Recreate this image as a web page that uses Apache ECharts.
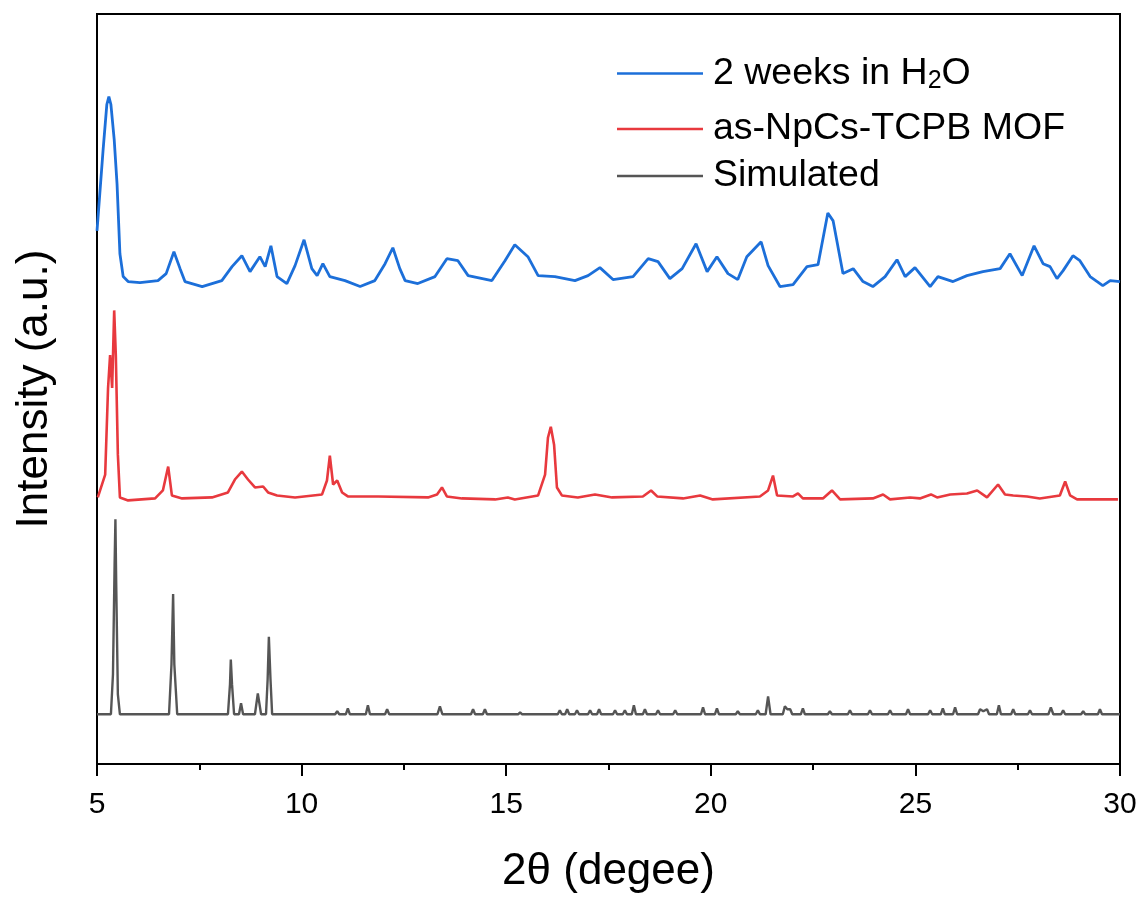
<!DOCTYPE html>
<html>
<head>
<meta charset="utf-8">
<script src="https://cdn.jsdelivr.net/npm/echarts@6/dist/echarts.min.js"></script>
<style>
html,body{margin:0;padding:0;background:#fff;}
#chart{width:1143px;height:899px;}
</style>
</head>
<body>
<div id="chart"></div>
<script>
// 2θ (degrees) vs intensity (a.u., curves stacked with offsets as in the figure)
const seriesNames = ['2 weeks in H2O', 'as-NpCs-TCPB MOF', 'Simulated'];
const xTickValues = [5, 10, 15, 20, 25, 30];

const h2oData = [
  [5.00,536],[5.15,618],[5.24,663],[5.29,671],[5.34,663],[5.42,628],[5.49,583],[5.56,513],[5.64,490],[5.76,485],
  [6.05,484],[6.49,486],[6.69,493],[6.88,515],[7.03,498],[7.15,485],[7.57,480],[8.05,486],[8.30,500],[8.54,511],
  [8.74,495],[8.98,510],[9.11,500],[9.25,521],[9.40,490],[9.64,483],[9.84,501],[10.06,527],[10.25,498],[10.38,491],
  [10.52,503],[10.69,490],[11.06,486],[11.43,480],[11.79,486],[12.04,503],[12.23,519],[12.40,498],[12.53,486],[12.84,483],
  [13.26,490],[13.55,508],[13.82,506],[14.07,491],[14.65,486],[14.97,506],[15.21,522],[15.53,510],[15.78,491],[16.19,490],
  [16.68,486],[17.00,491],[17.29,499],[17.61,487],[18.10,490],[18.47,508],[18.71,505],[19.00,488],[19.30,498],[19.64,523],
  [19.91,495],[20.15,510],[20.42,493],[20.66,487],[20.88,510],[21.23,525],[21.40,501],[21.69,480],[22.01,482],[22.35,500],
  [22.62,502],[22.86,554],[22.99,546],[23.23,493],[23.48,498],[23.72,485],[23.96,480],[24.26,490],[24.55,507],[24.75,490],
  [24.99,499],[25.36,480],[25.55,490],[25.92,485],[26.26,491],[26.65,495],[27.07,498],[27.31,513],[27.61,491],[27.90,521],
  [28.12,503],[28.29,500],[28.46,488],[28.61,496],[28.85,511],[29.02,506],[29.27,490],[29.58,481],[29.76,486],[30.00,485]
];

const mofData = [
  [5.02,268],[5.20,291],[5.27,378],[5.32,411],[5.37,378],[5.42,456],[5.46,411],[5.51,311],[5.56,268],[5.76,265],
  [6.42,267],[6.61,275],[6.74,299],[6.83,270],[7.08,267],[7.81,268],[8.20,273],[8.37,286],[8.54,294],[8.69,286],
  [8.86,278],[9.06,279],[9.18,273],[9.40,270],[9.84,268],[10.50,271],[10.62,285],[10.69,310],[10.77,281],[10.87,285],
  [10.99,273],[11.13,269],[11.87,269],[13.09,268],[13.31,271],[13.43,278],[13.55,269],[13.92,267],[14.73,266],[15.04,268],
  [15.21,266],[15.78,270],[15.95,291],[16.02,328],[16.09,339],[16.17,321],[16.24,278],[16.36,270],[16.75,268],[17.17,271],
  [17.59,268],[18.34,269],[18.54,275],[18.69,269],[19.32,267],[19.74,270],[20.05,266],[21.20,269],[21.40,275],[21.52,290],
  [21.62,270],[22.01,269],[22.13,272],[22.25,267],[22.74,267],[22.96,275],[23.16,266],[23.96,267],[24.21,271],[24.38,266],
  [24.87,268],[25.11,267],[25.38,271],[25.53,268],[25.85,271],[26.26,272],[26.51,275],[26.75,268],[27.02,281],[27.19,271],
  [27.39,270],[27.73,269],[28.04,267],[28.53,270],[28.66,284],[28.78,270],[28.95,266],[29.95,266]
];

const simData = [
  [5.00,50],[5.34,50],[5.39,90],[5.43,200],[5.45,246],[5.47,180],[5.51,70],[5.56,50],
  [6.76,50],[6.82,100],[6.86,171],[6.89,100],[6.96,50],
  [8.20,50],[8.25,80],[8.27,105],[8.30,80],[8.35,50],
  [8.47,50],[8.52,61],[8.57,50],
  [8.86,50],[8.93,71],[9.01,50],
  [9.13,50],[9.17,85],[9.20,128],[9.24,85],[9.28,50],
  [10.82,50],[10.87,53],[10.92,50],[11.08,50],[11.13,56],[11.18,50],[11.57,50],[11.62,59],[11.67,50],
  [12.04,50],[12.09,55],[12.14,50],[13.32,50],[13.38,58],[13.44,50],[14.14,50],[14.19,55],[14.24,50],
  [14.43,50],[14.48,55],[14.53,50],[15.29,50],[15.34,52],[15.39,50],[16.26,50],[16.31,54],[16.36,50],
  [16.44,50],[16.49,55],[16.54,50],[16.68,50],[16.73,54],[16.78,50],[17.00,50],[17.05,54],[17.10,50],
  [17.22,50],[17.27,55],[17.32,50],[17.61,50],[17.66,54],[17.71,50],[17.85,50],[17.90,54],[17.95,50],
  [18.07,50],[18.12,59],[18.17,50],[18.34,50],[18.39,55],[18.44,50],[18.66,50],[18.71,54],[18.76,50],
  [19.08,50],[19.13,54],[19.18,50],[19.76,50],[19.81,57],[19.86,50],[20.10,50],[20.15,56],[20.20,50],
  [20.61,50],[20.66,53],[20.71,50],[21.10,50],[21.15,54],[21.20,50],[21.34,50],[21.40,68],[21.46,50],
  [21.76,50],[21.81,58],[21.87,55],[21.94,55],[21.99,50],[22.20,50],[22.25,56],[22.30,50],
  [22.86,50],[22.91,53],[22.96,50],[23.35,50],[23.40,54],[23.45,50],[23.84,50],[23.89,54],[23.94,50],
  [24.33,50],[24.38,54],[24.43,50],[24.77,50],[24.82,55],[24.87,50],[25.31,50],[25.36,54],[25.41,50],
  [25.62,50],[25.67,56],[25.72,50],[25.92,50],[25.97,57],[26.02,50],[26.53,50],[26.58,55],[26.66,53],
  [26.75,55],[26.80,50],[26.99,50],[27.04,59],[27.09,50],[27.34,50],[27.39,55],[27.44,50],
  [27.75,50],[27.80,54],[27.85,50],[28.25,50],[28.31,57],[28.37,50],[28.56,50],[28.61,54],[28.66,50],
  [29.05,50],[29.10,53],[29.15,50],[29.46,50],[29.51,55],[29.56,50],[30.00,50]
];

const colors = ['#1c6fd9', '#e8393e', '#555555'];
const FONT = 'Arial, "Liberation Sans", sans-serif';

const chart = echarts.init(document.getElementById('chart'));

function legendFor(i, top) {
  return {
    data: [seriesNames[i]],
    left: 617,
    top: top,
    padding: 0,
    orient: 'vertical',
    itemWidth: 86,
    itemHeight: 14,
    icon: 'path://M0,0 L86,0 L86,2.6 L0,2.6 Z',
    selectedMode: false,
    formatter: function (name) {
      if (name === seriesNames[0]) return '{t|2 weeks in H}{s|2}{t|O}';
      return '{t|' + name + '}';
    },
    textStyle: {
      fontFamily: FONT,
      color: '#000',
      padding: [0, 0, 0, 5],
      rich: {
        t: { fontSize: 37.5, fontFamily: FONT, color: '#000', lineHeight: 40, verticalAlign: 'middle' },
        s: { fontSize: 25, fontFamily: FONT, color: '#000', lineHeight: 40, verticalAlign: 'middle', padding: [16, 0, 0, 0] }
      }
    }
  };
}

const option = {
  animation: false,
  backgroundColor: '#fff',
  color: colors,
  grid: {
    left: 97, top: 14, right: 23, bottom: 131,
    show: true, borderColor: '#000', borderWidth: 2, backgroundColor: 'transparent'
  },
  legend: [legendFor(0, 53), legendFor(1, 110), legendFor(2, 157)],
  xAxis: {
    type: 'value',
    min: 5, max: 30, interval: 5,
    name: '2θ (degee)',
    nameLocation: 'middle',
    nameGap: 86,
    nameTextStyle: { fontFamily: FONT, fontSize: 44, color: '#000' },
    axisLine: { show: true, lineStyle: { color: '#000', width: 2 } },
    axisTick: { show: true, inside: false, length: 12, lineStyle: { color: '#000', width: 2 } },
    minorTick: { show: true, splitNumber: 2, length: 6, lineStyle: { color: '#000', width: 2 } },
    axisLabel: {
      margin: 26, fontFamily: FONT, fontSize: 30, color: '#000',
      formatter: function (v) { return xTickValues.indexOf(v) >= 0 ? String(v) : ''; }
    },
    splitLine: { show: false }
  },
  yAxis: {
    type: 'value',
    min: 0, max: 754,
    name: 'Intensity (a.u.)',
    nameLocation: 'middle',
    nameGap: 40,
    nameTextStyle: { fontFamily: FONT, fontSize: 44, color: '#000' },
    axisLine: { show: true, lineStyle: { color: '#000', width: 2 } },
    axisTick: { show: false },
    axisLabel: { show: false },
    splitLine: { show: false }
  },
  series: [
    { name: seriesNames[0], type: 'line', data: h2oData, symbol: 'none', lineStyle: { width: 2.8, color: colors[0] }, itemStyle: { color: colors[0] } },
    { name: seriesNames[1], type: 'line', data: mofData, symbol: 'none', lineStyle: { width: 2.6, color: colors[1] }, itemStyle: { color: colors[1] } },
    { name: seriesNames[2], type: 'line', data: simData, symbol: 'none', lineStyle: { width: 2.4, color: colors[2] }, itemStyle: { color: colors[2] } }
  ]
};
chart.setOption(option);
</script>
</body>
</html>
